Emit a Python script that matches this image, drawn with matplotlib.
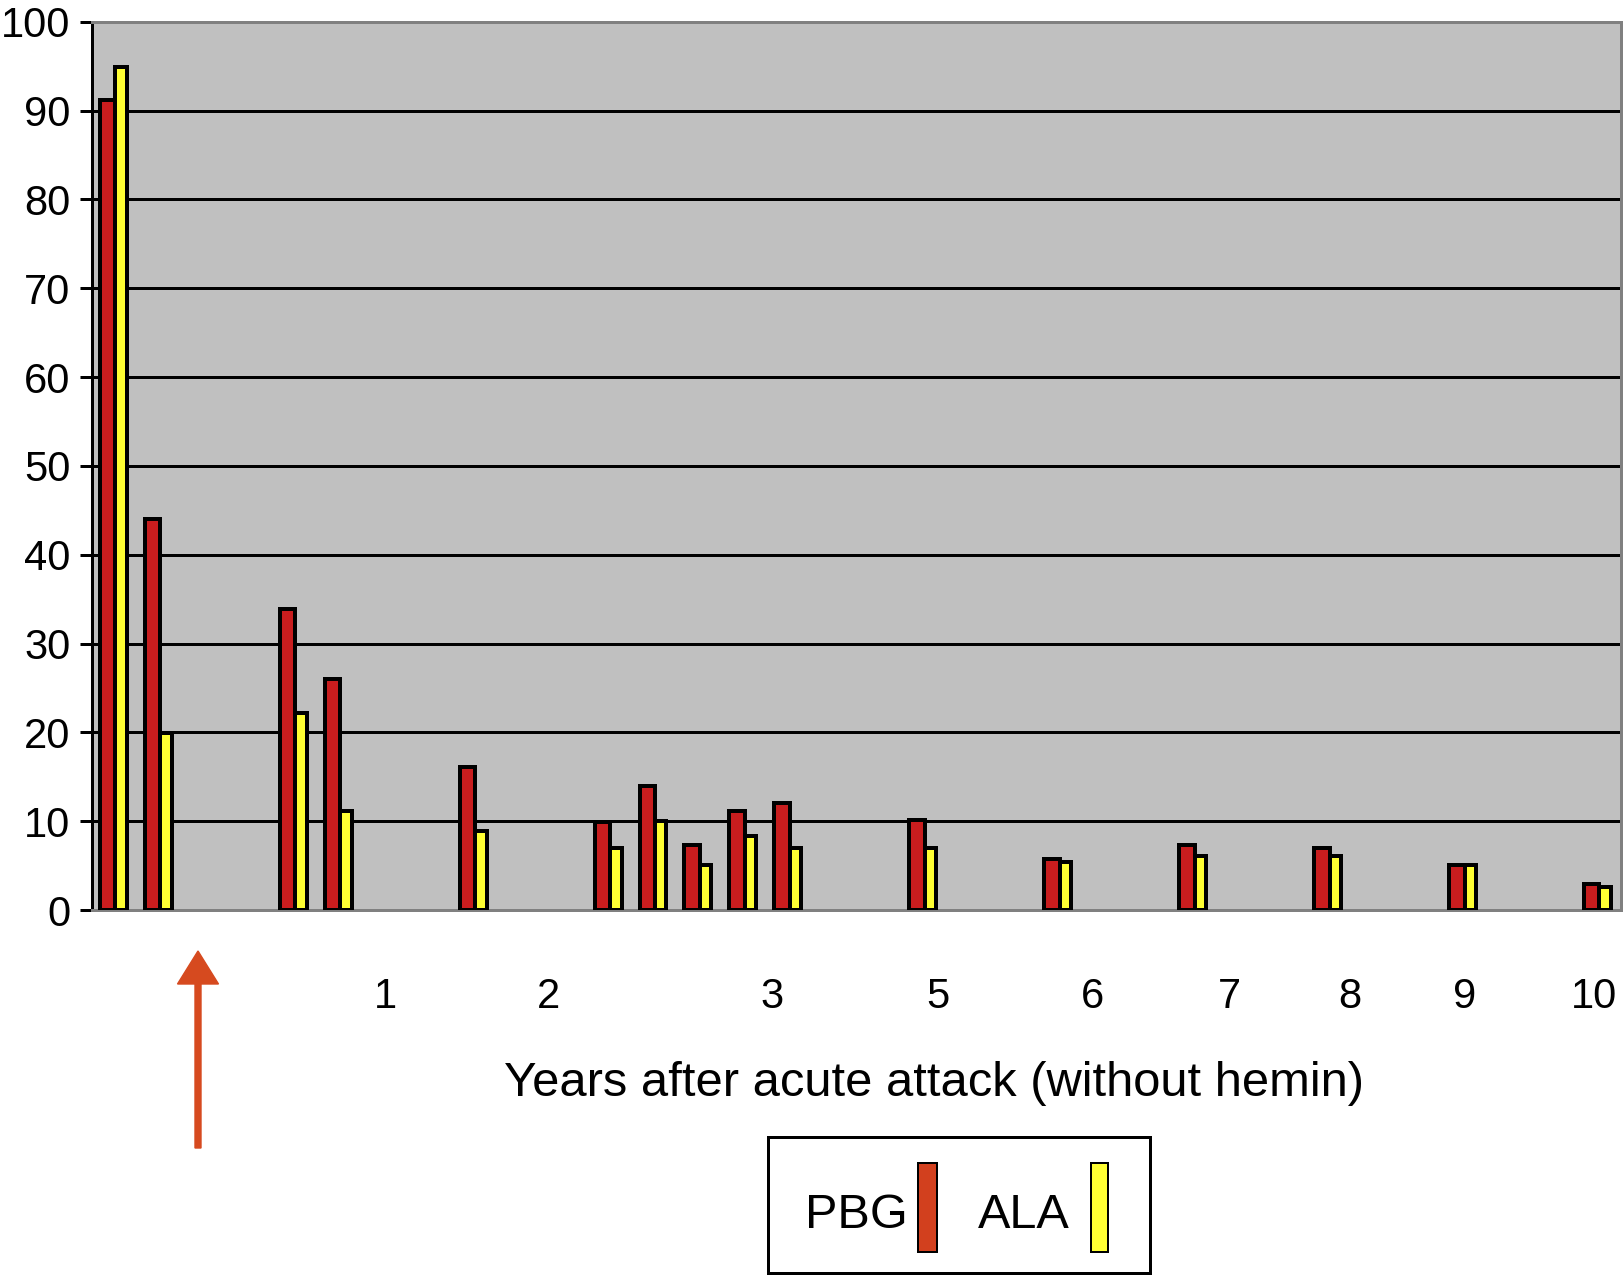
import matplotlib
matplotlib.use("Agg")
import matplotlib.pyplot as plt
from matplotlib.patches import Rectangle, FancyArrow
from matplotlib.transforms import IdentityTransform

# ---------------- data ----------------
n_slots = 34
bar_slots = [0, 1, 4, 5, 8, 11, 12, 13, 14, 15, 18, 21, 24, 27, 30, 33]
pbg = [91.2, 44.0, 33.9, 26.0, 16.1, 9.9, 14.0, 7.3, 11.1, 12.1, 10.1, 5.7, 7.3, 7.0, 5.1, 2.9]
ala = [94.9, 19.9, 22.2, 11.1, 8.9, 7.0, 10.0, 5.1, 8.3, 7.0, 7.0, 5.4, 6.1, 6.1, 5.1, 2.6]
year_label_pos = [6.03, 9.66, 14.63, 18.3, 21.74, 24.79, 27.46, 30.03, 32.9]
year_labels = ["1", "2", "3", "5", "6", "7", "8", "9", "10"]
yticks = [0, 10, 20, 30, 40, 50, 60, 70, 80, 90, 100]
xlabel = "Years after acute attack (without hemin)"
series_names = ["PBG", "ALA"]

# ---------------- style ----------------
plt.rcParams['font.family'] = ['Liberation Sans', 'DejaVu Sans']
W, H, DPI = 1624, 1275, 100
px = 72.0 / DPI  # points per pixel

red = "#C81D1E"
red_leg = "#D2401E"
yellow = "#FFFF33"
gray_bg = "#C0C0C0"
gray_edge = "#808080"

fig = plt.figure(figsize=(W / DPI, H / DPI), dpi=DPI)
ax = fig.add_axes([92 / W, 1 - 910 / H, (1621 - 92) / W, (910 - 21.7) / H])
ax.set_facecolor(gray_bg)

red_w = 0.345
yel_w = 0.255
off = 0.02
ax.bar([s + off for s in bar_slots], pbg, width=-red_w, align='edge',
       color=red, edgecolor='black', linewidth=4 * px, zorder=3)
ax.bar([s + off for s in bar_slots], ala, width=yel_w, align='edge',
       color=yellow, edgecolor='black', linewidth=4 * px, zorder=3)

ax.set_xlim(-0.5, n_slots - 0.5)
ax.set_ylim(0, 100)
ax.set_yticks(yticks)
ax.set_yticklabels([str(v) for v in yticks])
ax.yaxis.grid(True, color='black', linewidth=3 * px, zorder=1)
ax.set_axisbelow(True)

ax.set_xticks(year_label_pos)
ax.set_xticklabels(year_labels)
ax.tick_params(axis='x', length=0, pad=48, labelsize=30)
ax.tick_params(axis='y', length=12 * px, width=3 * px, pad=7,
               labelsize=30, color='black')

for s in ['top', 'right', 'bottom']:
    ax.spines[s].set_color(gray_edge)
    ax.spines[s].set_linewidth(3 * px)
ax.spines['left'].set_color('black')
ax.spines['left'].set_linewidth(3 * px)

# x axis title
fig.text(934 / W, 1 - 1083 / H, xlabel, ha='center', va='center', fontsize=35.2)

# arrow (annotation) in pixel coordinates
arrow = FancyArrow(198, H - 1148, 0, (1148 - 951), width=6, head_width=41,
                   head_length=33, length_includes_head=True,
                   color="#D64A1F", transform=IdentityTransform())
fig.patches.append(arrow)

# legend box drawn manually
box = Rectangle((768, H - 1273), 1150 - 768, 1273 - 1137, fill=False,
                edgecolor='black', linewidth=3 * px, transform=IdentityTransform())
fig.patches.append(box)
fig.patches.append(Rectangle((918, H - 1252), 19, 89, facecolor=red_leg, edgecolor='black',
                             linewidth=2 * px, transform=IdentityTransform()))
fig.patches.append(Rectangle((1091, H - 1252), 17, 89, facecolor=yellow, edgecolor='black',
                             linewidth=2 * px, transform=IdentityTransform()))
fig.text(856 / W, 1 - 1228 / H, series_names[0], ha='center', va='baseline', fontsize=35)
fig.text(1024 / W, 1 - 1228 / H, series_names[1], ha='center', va='baseline', fontsize=35)

fig.savefig("out.png", dpi=DPI)
